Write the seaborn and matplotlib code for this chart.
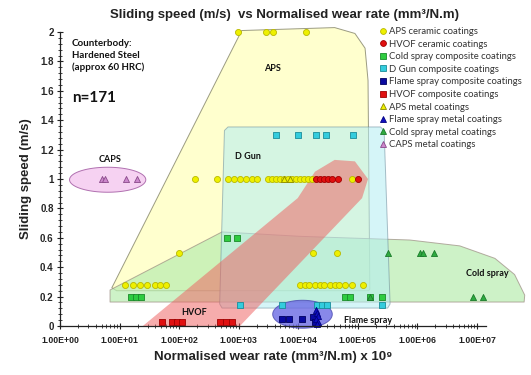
import numpy as np
import pandas as pd
import matplotlib
matplotlib.use("Agg")
import matplotlib.pyplot as plt
from matplotlib.patches import Polygon
from matplotlib.lines import Line2D
from matplotlib.ticker import LogLocator, MultipleLocator, FuncFormatter, NullFormatter
import seaborn as sns

# ---------------- data: (normalised wear rate x1e9, sliding speed m/s) ----------------
aps_ceramic_wear = [970, 2900, 3700, 13400,
                    185, 430, 660, 830, 1050, 1320, 1660, 2030, 3090, 3600, 4200, 4900,
                    5700, 6700, 7800, 9100, 10600, 12400, 14400, 16900, 79000,
                    100, 17500, 44500,
                    12.3, 16.7, 22, 29, 39, 48, 60,
                    10600, 12700, 15300, 18800, 22800, 27500, 33500, 40500, 49000, 60000,
                    80000, 120000]
aps_ceramic_speed = [2.0] * 4 + [1.0] * 21 + [0.5] * 3 + [0.28] * 7 + [0.28] * 12

hvof_ceramic_wear = [20000, 23000, 27000, 31500, 36500, 46000, 100000]
hvof_ceramic_speed = [1.0] * 7

cold_comp_wear = [630, 930, 15.5, 19, 23, 60000, 74000, 160000, 250000]
cold_comp_speed = [0.6, 0.6, 0.2, 0.2, 0.2, 0.2, 0.2, 0.2, 0.2]

dgun_comp_wear = [4200, 9800, 20000, 29000, 83000, 1050, 5300, 20500, 25000, 30000, 250000]
dgun_comp_speed = [1.3] * 5 + [0.14] * 6

flame_comp_wear = [5300, 7000, 11500, 17500, 19000]
flame_comp_speed = [0.05, 0.05, 0.05, 0.06, 0.03]

hvof_comp_wear = [51, 76, 92, 112, 480, 610, 770]
hvof_comp_speed = [0.03] * 7

aps_metal_wear = [5700, 7200]
aps_metal_speed = [1.0, 1.0]

flame_metal_wear = [19500, 20500, 21500, 20000, 21000, 20500]
flame_metal_speed = [0.11, 0.09, 0.07, 0.05, 0.03, 0.015]

cold_metal_wear = [320000, 1100000, 1230000, 1900000, 160000, 8500000, 12500000]
cold_metal_speed = [0.5, 0.5, 0.5, 0.5, 0.2, 0.2, 0.2]

caps_metal_wear = [5.0, 5.7, 12.8, 19.6]
caps_metal_speed = [1.0, 1.0, 1.0, 1.0]

series = [
    ("APS ceramic coatings", aps_ceramic_wear, aps_ceramic_speed, "o", "#EEF000", "#B8B800"),
    ("HVOF ceramic coatings", hvof_ceramic_wear, hvof_ceramic_speed, "o", "#E01010", "#A00000"),
    ("Cold spray composite coatings", cold_comp_wear, cold_comp_speed, "s", "#2ECC40", "#1A8A2A"),
    ("D Gun composite coatings", dgun_comp_wear, dgun_comp_speed, "s", "#33CCDD", "#1A8C99"),
    ("Flame spray composite coatings", flame_comp_wear, flame_comp_speed, "s", "#0A0AA0", "#000060"),
    ("HVOF composite coatings", hvof_comp_wear, hvof_comp_speed, "s", "#E01010", "#A00000"),
    ("APS metal coatings", aps_metal_wear, aps_metal_speed, "^", "#EEF000", "#8A8A00"),
    ("Flame spray metal coatings", flame_metal_wear, flame_metal_speed, "^", "#1010C0", "#000080"),
    ("Cold spray metal coatings", cold_metal_wear, cold_metal_speed, "^", "#2EAA40", "#1A7A2A"),
    ("CAPS metal coatings", caps_metal_wear, caps_metal_speed, "^", "#CC88CC", "#8A4A8A"),
]

# process regions, vertices in (log10 wear rate, speed)
aps_region = [(3.05, 2.01), (4.61, 2.03), (4.95, 1.99), (5.12, 1.89), (5.17, 1.67),
              (5.20, 0.25), (5.18, 0.24), (0.95, 0.24), (0.87, 0.26), (0.92, 0.30)]
cold_region = [(0.84, 0.163), (0.84, 0.245), (2.72, 0.64), (4.03, 0.61), (5.87, 0.585),
               (6.71, 0.545), (7.30, 0.46), (7.63, 0.35), (7.80, 0.21), (7.79, 0.163)]
dgun_region = [(2.82, 1.354), (5.38, 1.354), (5.44, 1.33), (5.54, 0.15), (5.50, 0.122),
               (2.72, 0.122), (2.68, 0.15), (2.76, 1.33)]
hvof_region = [(1.39, 0.0), (3.99, 0.87), (4.28, 1.05), (4.61, 1.13), (4.95, 1.12),
               (5.17, 1.0), (5.07, 0.87), (3.02, 0.0)]
caps_ellipse = dict(cx=0.80, cy=0.995, rx=0.64, ry=0.085)
flame_ellipse = dict(cx=4.07, cy=0.08, rx=0.50, ry=0.095)

# ---------------- figure ----------------
sns.set_theme(style="white")
plt.rcParams["font.family"] = ["Liberation Sans", "DejaVu Sans"]

fig = plt.figure(figsize=(5.31, 3.75), dpi=100)
ax = fig.add_axes([60 / 531, 49 / 375, 426 / 531, 294 / 375])
ax.set_xscale("log")
ax.set_xlim(1, 10 ** 7.15)
ax.set_ylim(0, 2)


def log_poly(verts):
    return [(10 ** lx, y) for lx, y in verts]


def log_ellipse(cx, cy, rx, ry, n=120):
    t = np.linspace(0, 2 * np.pi, n)
    return [(10 ** (cx + rx * np.cos(a)), cy + ry * np.sin(a)) for a in t]


def add_region(verts, fc, ec, alpha, z):
    p = Polygon(verts, closed=True, facecolor=fc, edgecolor=ec, lw=0.7,
                alpha=alpha, zorder=z, clip_on=False, joinstyle="round")
    ax.add_patch(p)


add_region(log_poly(aps_region), "#FFFFC6", "#8A8A70", 0.85, 1)
add_region(log_poly(cold_region), "#B8EDB0", "#9A8A80", 0.7, 2)
add_region(log_poly(dgun_region), "#B4EEF4", "#6A8A9A", 0.55, 3)
add_region(log_poly(hvof_region), "#EE6060", "none", 0.52, 4)
add_region(log_ellipse(**caps_ellipse), "#F6D2F2", "#B070B0", 1.0, 4)
add_region(log_ellipse(**flame_ellipse), "#6A6AE4", "#4A4AB0", 0.8, 5)

# scatter points per series
for name, wear, speed, mk, fc, ec in series:
    df = pd.DataFrame({"wear": wear, "speed": speed})
    sns.scatterplot(data=df, x="wear", y="speed", marker=mk, color=fc,
                    edgecolor=ec, linewidth=0.6, s=19, ax=ax, zorder=10,
                    legend=False, clip_on=False)

# region labels
lab = dict(fontsize=6.5, fontweight="bold", family=["Lato", "DejaVu Sans"],
           ha="center", va="center", color="#111111", zorder=12)
ax.text(10 ** 3.56, 1.755, "APS", **lab)
ax.text(10 ** 0.84, 1.13, "CAPS", **lab)
ax.text(10 ** 3.15, 1.15, "D Gun", **lab)
ax.text(10 ** 2.25, 0.09, "HVOF", **lab)
ax.text(10 ** 7.18, 0.36, "Cold spray", **lab)
ax.text(10 ** 5.17, 0.035, "Flame spray", **lab)

ax.text(0.028, 0.975, "Counterbody:\nHardened Steel\n(approx 60 HRC)",
        transform=ax.transAxes, ha="left", va="top", fontsize=7,
        fontweight="bold", family=["Lato", "DejaVu Sans"], linespacing=1.35,
        color="#111111")
ax.text(0.028, 0.776, "n=171", transform=ax.transAxes, ha="left", va="center",
        fontsize=11, fontweight="bold", family=["Lato", "DejaVu Sans"], color="#111111")

# axes styling
for side in ("top", "right"):
    ax.spines[side].set_visible(False)
for side in ("left", "bottom"):
    ax.spines[side].set_color("#222222")
    ax.spines[side].set_linewidth(0.9)
    ax.spines[side].set_zorder(11)

ax.yaxis.set_major_locator(MultipleLocator(0.2))
ax.yaxis.set_minor_locator(MultipleLocator(0.04))
ax.yaxis.set_major_formatter(FuncFormatter(lambda v, p: f"{v:g}"))
ax.xaxis.set_major_locator(LogLocator(base=10, numticks=20))
ax.xaxis.set_minor_locator(LogLocator(base=10, subs=np.arange(2, 10), numticks=20))
ax.xaxis.set_major_formatter(FuncFormatter(lambda v, p: f"{v:.2E}"))
ax.xaxis.set_minor_formatter(NullFormatter())

ax.tick_params(axis="both", which="major", direction="inout", length=5, width=0.8,
               color="#222222", bottom=True, left=True)
ax.tick_params(axis="both", which="minor", direction="inout", length=3, width=0.6,
               color="#222222", bottom=True, left=True)
ax.tick_params(axis="y", labelsize=7, pad=2)
ax.tick_params(axis="x", labelsize=6.3, pad=5)
ax.set_xticks([10 ** k for k in range(8)])
for t in ax.get_yticklabels():
    t.set_fontweight("bold")
for t in ax.get_xticklabels():
    t.set_fontweight("semibold")
    t.set_color("#222222")

ax.set_xlabel("Normalised wear rate (mm³/N.m) x 10⁹", fontsize=9.5,
              fontweight="bold", labelpad=4, color="#222222")
ax.set_ylabel("Sliding speed (m/s)", fontsize=9.5, fontweight="bold", labelpad=6,
              color="#222222")
fig.text(285 / 531, 1 - 15 / 375,
         "Sliding speed (m/s)  vs Normalised wear rate (mm³/N.m)",
         ha="center", va="center", fontsize=9.5, fontweight="bold", color="#222222")

# legend
handles = [Line2D([], [], linestyle="none", marker=mk, markersize=4.2,
                  markerfacecolor=fc, markeredgecolor=ec, markeredgewidth=0.6, label=name)
           for name, _, _, mk, fc, ec in series]
leg = fig.legend(handles=handles, loc="upper left",
                 bbox_to_anchor=(380 / 531, 1 - 27 / 375), frameon=False,
                 prop={"family": ["Lato", "DejaVu Sans"], "size": 6.8},
                 handlelength=0.7, handletextpad=0.3, labelspacing=0.38,
                 borderaxespad=0, borderpad=0)
for t in leg.get_texts():
    t.set_color("#333333")

fig.savefig("out.png", dpi=100)
